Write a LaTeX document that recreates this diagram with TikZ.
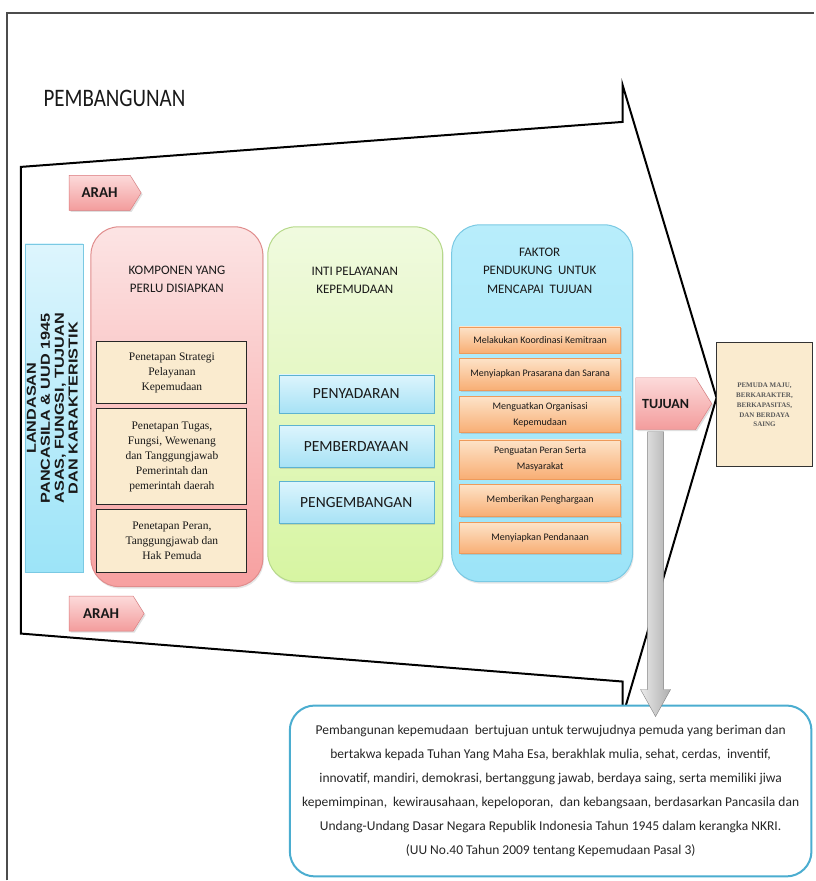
\documentclass[tikz,border=0pt]{standalone}
\usepackage{fontspec}
\setmainfont{Carlito}
\newfontfamily\serifrm{Liberation Serif}
\newfontfamily\arialsans{Liberation Sans}
\usepackage{xcolor}
\usepackage{tikz}
\usetikzlibrary{positioning,shadows,shapes,fit}

\definecolor{pinkedge}{HTML}{E08C8C}
\definecolor{pinktop}{HTML}{FCE4E4}
\definecolor{pinkbot}{HTML}{F7A0A0}
\definecolor{arahedge}{HTML}{D9777A}
\definecolor{arahtop}{HTML}{FCDADA}
\definecolor{arahbot}{HTML}{F39C9C}
\definecolor{greenedge}{HTML}{B6D98A}
\definecolor{greentop}{HTML}{F0FADF}
\definecolor{greenbot}{HTML}{D7F5A2}
\definecolor{blueedge}{HTML}{7AC9E3}
\definecolor{bluetop}{HTML}{B8EDFB}
\definecolor{bluebot}{HTML}{9CE4F8}
\definecolor{cyanedge}{HTML}{5CB3D1}
\definecolor{cyantop}{HTML}{DDF5FD}
\definecolor{cyanbot}{HTML}{A7E2F5}
\definecolor{orangeedge}{HTML}{EE9A5A}
\definecolor{orangetop}{HTML}{FDE3C8}
\definecolor{orangebot}{HTML}{F8AE74}
\definecolor{beige}{HTML}{FAEBCF}
\definecolor{ketedge}{HTML}{4BADD0}

\begin{document}
\begin{tikzpicture}
[x=1pt, y=-1pt, font=\fontsize{13}{18}\selectfont, text=black!90,
    kolom/.style={rectangle, rounded corners=28pt, line width=1pt,
        drop shadow={opacity=0.2, shadow xshift=1pt, shadow yshift=-2pt}},
    arahbox/.style={signal, signal to=east, signal pointer angle=116,
        draw=arahedge, top color=arahtop, bottom color=arahbot, inner sep=0pt,
        font=\fontsize{15}{18}\selectfont\bfseries,
        drop shadow={opacity=0.25, shadow xshift=1.5pt, shadow yshift=-1.5pt}},
    isian/.style={rectangle, draw=black!85, line width=1pt, fill=beige,
        minimum width=150, inner sep=1pt, align=center,
        font=\serifrm\fontsize{11.5}{15}\selectfont},
    inti/.style={rectangle, draw=cyanedge, top color=cyantop, bottom color=cyanbot,
        minimum width=155, inner sep=1pt, font=\fontsize{15.5}{18}\selectfont,
        drop shadow={opacity=0.25, shadow xshift=1pt, shadow yshift=-1.5pt}},
    faktor/.style={rectangle, draw=orangeedge, top color=orangetop, bottom color=orangebot,
        minimum width=161, inner sep=1pt, align=center,
        font=\fontsize{10}{16}\selectfont,
        drop shadow={opacity=0.25, shadow xshift=1pt, shadow yshift=-1.5pt}},
    node distance=5pt
    ]

    % bingkai dan panah besar
    \draw[black!70, line width=1.2pt] (7,881) -- (7,13) -- (815,13);
    \draw[black, line width=2pt, line join=miter]
        (21,167) -- (623,122) -- (623,85) -- (717,398) -- (623,717)
        -- (623,682) -- (21,634) -- cycle;

    \node[anchor=west, font=\fontsize{21}{24}\selectfont] (judul) at (40,98)
        {\scalebox{1}[1.2]{PEMBANGUNAN}};

    \node[arahbox, anchor=west, minimum width=72, minimum height=35] (arah1) at (69,193) {ARAH};
    \node[arahbox, anchor=west, minimum width=75, minimum height=35] (arah2) at (69,614) {ARAH};

    \node[rectangle, rotate=90, draw=blueedge, top color=cyantop, bottom color=bluebot,
        minimum width=329, minimum height=58, inner sep=0pt,
        font=\arialsans\bfseries\fontsize{13}{14}\selectfont]
        (landasan) at (54,408.5) {\scalebox{1.25}[1]{\begin{tabular}{@{}c@{}}
        LANDASAN\\ PANCASILA \& UUD 1945\\ ASAS, FUNGSI, TUJUAN\\ DAN KARAKTERISTIK\end{tabular}}};

    % kolom komponen
    \node[kolom, draw=pinkedge, top color=pinktop, bottom color=pinkbot,
        minimum width=172, minimum height=360] (komponen) at (177,407) {};
    \node[align=center] (komponenjudul) at (177,280) {KOMPONEN YANG\\ PERLU DISIAPKAN};
    \node[isian, minimum height=62] (strategi) at (172,373) {Penetapan Strategi\\ Pelayanan\\ Kepemudaan};
    \node[isian, minimum height=96, below=4pt of strategi] (tugas) {Penetapan Tugas,\\ Fungsi, Wewenang\\ dan Tanggungjawab\\ Pemerintah dan\\ pemerintah daerah};
    \node[isian, minimum height=63, below=4pt of tugas] (peran) {Penetapan Peran,\\ Tanggungjawab dan\\ Hak Pemuda};

    % kolom inti pelayanan
    \node[kolom, draw=greenedge, top color=greentop, bottom color=greenbot,
        minimum width=175, minimum height=355] (pelayanan) at (355.5,404.5) {};
    \node[align=center] (pelayananjudul) at (355,281) {INTI PELAYANAN\\ KEPEMUDAAN};
    \node[inti, minimum height=38] (penyadaran) at (356.5,394) {PENYADARAN};
    \node[inti, minimum height=42, below=12pt of penyadaran] (pemberdayaan) {PEMBERDAYAAN};
    \node[inti, minimum height=42, below=14pt of pemberdayaan] (pengembangan) {PENGEMBANGAN};

    % kolom faktor pendukung
    \node[kolom, draw=blueedge, top color=bluetop, bottom color=bluebot,
        minimum width=181, minimum height=357] (pendukung) at (542.5,403.5) {};
    \node[align=center, font=\fontsize{13}{19}\selectfont] (pendukungjudul) at (540,271)
        {FAKTOR\\ PENDUKUNG\ \ UNTUK\\ MENCAPAI\ \ TUJUAN};
    \node[faktor, minimum height=26] (koordinasi) at (540.5,340) {Melakukan Koordinasi Kemitraan};
    \node[faktor, minimum height=32, below=of koordinasi] (prasarana) {Menyiapkan Prasarana dan Sarana};
    \node[faktor, minimum height=36, below=6pt of prasarana] (organisasi) {Menguatkan Organisasi\\ Kepemudaan};
    \node[faktor, minimum height=39, below=7pt of organisasi] (masyarakat) {Penguatan Peran Serta\\ Masyarakat};
    \node[faktor, minimum height=32, below=of masyarakat] (penghargaan) {Memberikan Penghargaan};
    \node[faktor, minimum height=31, below=6pt of penghargaan] (pendanaan) {Menyiapkan Pendanaan};

    % tujuan
    \node[arahbox, anchor=west, minimum width=76, minimum height=52,
        font=\fontsize{14}{16}\selectfont\bfseries] (tujuan) at (636,404) {TUJUAN};
    \node[rectangle, draw=black!80, line width=1.2pt, fill=beige, minimum width=96,
        minimum height=124, align=center, text=black!65,
        font=\serifrm\bfseries\fontsize{7}{10}\selectfont] (hasil) at (765,405)
        {PEMUDA MAJU,\\ BERKARAKTER,\\ BERKAPASITAS,\\ DAN BERDAYA\\ SAING};

    \node[rectangle, rounded corners=25pt, draw=ketedge, line width=2pt, fill=white,
        minimum width=522, minimum height=171, align=center, text=black!85,
        font=\fontsize{13.5}{24}\selectfont] (ket) at (551,791.5)
        {Pembangunan kepemudaan\ \ bertujuan untuk terwujudnya pemuda yang beriman dan\\
         bertakwa kepada Tuhan Yang Maha Esa, berakhlak mulia, sehat, cerdas,\ \ inventif,\\
         innovatif, mandiri, demokrasi, bertanggung jawab, berdaya saing, serta memiliki jiwa\\
         kepemimpinan,\ \ kewirausahaan, kepeloporan,\ \ dan kebangsaan, berdasarkan Pancasila dan\\
         Undang-Undang Dasar Negara Republik Indonesia Tahun 1945 dalam kerangka NKRI.\\
         (UU No.40 Tahun 2009 tentang Kepemudaan Pasal 3)};

    % panah abu-abu ke keterangan
    \coordinate (pangkal) at (656,432);
    \coordinate (ujung) at (656,717);
    \draw[draw=black!50, left color=black!8, right color=black!32, line join=miter]
        ([xshift=-8pt]pangkal) -- ([xshift=-8pt,yshift=27pt]ujung)
        -- ([xshift=-15pt,yshift=27pt]ujung) -- (ujung)
        -- ([xshift=15pt,yshift=27pt]ujung) -- ([xshift=8pt,yshift=27pt]ujung)
        -- ([xshift=8pt]pangkal) -- cycle;

    \useasboundingbox (0,0) rectangle (815,881);
\end{tikzpicture}
\end{document}
